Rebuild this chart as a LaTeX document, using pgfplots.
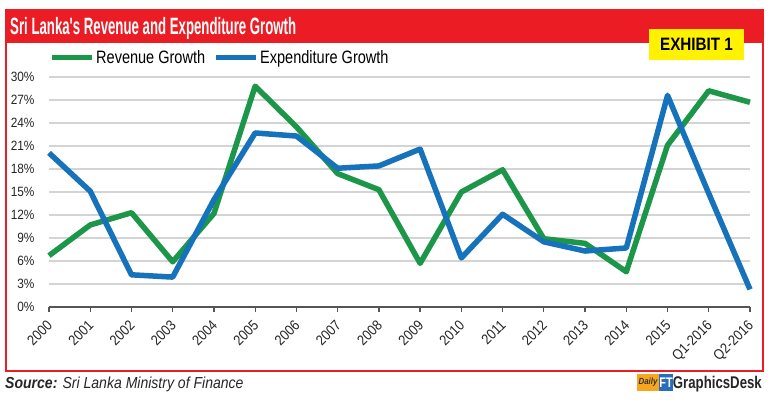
\documentclass[border=0pt]{standalone}
\usepackage{pgfplots}
\pgfplotsset{compat=1.18}
\usepackage{fontspec}
\setmainfont{Liberation Sans}[FakeStretch=0.88]
\newfontfamily\titlefont{Liberation Sans}[FakeStretch=0.56]
\newfontfamily\legfont{Liberation Sans}[FakeStretch=0.81]
\newfontfamily\exfont{Liberation Sans}[FakeStretch=0.85]
\newfontfamily\gdfont{Liberation Sans}[FakeStretch=0.78]
\definecolor{revgreen}{RGB}{28,150,72}
\definecolor{expblue}{RGB}{22,114,186}
\definecolor{bannerred}{RGB}{236,28,36}
\definecolor{exyellow}{RGB}{255,242,0}
\definecolor{axisgray}{RGB}{85,85,85}
\definecolor{gridgray}{RGB}{212,212,212}
\definecolor{logoorange}{RGB}{247,166,30}
\definecolor{logoblue}{RGB}{40,110,185}

\pgfplotstableread{
x rev exp
0 6.7 20.1
1 10.7 15.1
2 12.3 4.2
3 5.9 3.9
4 12.2 14.0
5 28.8 22.7
6 23.5 22.3
7 17.4 18.1
8 15.3 18.4
9 5.7 20.6
10 15.0 6.4
11 17.9 12.1
12 8.9 8.5
13 8.3 7.3
14 4.6 7.7
15 21.1 27.6
16 28.2 14.8
17 26.7 2.3
}\datatable

\begin{document}
\begin{tikzpicture}
\useasboundingbox (-49bp,-96bp) rectangle (721bp,307bp);
\fill[white] (-49bp,-96bp) rectangle (721bp,307bp);
% frame and banner
\fill[bannerred] (-43bp,297bp) rectangle (714bp,264bp);
\draw[bannerred, line width=1.6bp] (-43bp,297bp) rectangle (714bp,-64bp);
\node[anchor=base west, inner sep=0pt, text=white, font=\titlefont\bfseries\fontsize{23.7}{24}\selectfont] at (-39bp,272bp) {Sri Lanka's Revenue and Expenditure Growth};
\fill[exyellow] (600bp,278bp) rectangle (695bp,247bp);
\node[inner sep=0pt, text=black, font=\exfont\bfseries\fontsize{18}{18}\selectfont] at (647.5bp,262.5bp) {EXHIBIT 1};

\begin{axis}[
  scale only axis,
  width=701bp, height=230bp,
  at={(0,0)}, anchor=south west,
  xmin=0, xmax=17, ymin=0, ymax=30,
  axis x line*=bottom, axis y line*=left,
  y axis line style={draw=none},
  x axis line style={draw=axisgray, line width=1.5bp, -},
  xtick={0,...,17},
  xticklabels={2000,2001,2002,2003,2004,2005,2006,2007,2008,2009,2010,2011,2012,2013,2014,2015,Q1-2016,Q2-2016},
  xtick style={draw=axisgray, line width=1.3bp},
  tick align=outside,
  major tick length=5bp,
  ytick={0,3,...,30},
  yticklabel={\pgfmathprintnumber{\tick}\%},
  ytick style={draw=none},
  ymajorgrids,
  major grid style={draw=gridgray, line width=1.3bp},
  tick label style={font=\fontsize{13.5}{14}\selectfont, text=black!85},
  /pgf/number format/assume math mode=true,
  xticklabel style={font=\fontsize{14.5}{15}\selectfont, xshift=-3bp, yshift=-6bp, rotate=45, anchor=north east, inner sep=0.5bp},
  yticklabel style={xshift=-6bp},
  legend columns=2,
  legend style={draw=none, fill=none, at={(0.0,1.083)}, anchor=west, inner sep=0pt,
    font=\legfont\fontsize{18}{18}\selectfont,
    /tikz/every even column/.append style={column sep=6bp}},
  legend image code/.code={\draw[line width=5bp, #1] (0bp,0bp) -- (40bp,0bp);},
  clip=false,
]
\addplot[revgreen, line width=5.5bp, line join=round] table[x=x, y=rev] {\datatable};
\addlegendentry{Revenue Growth}
\addplot[expblue, line width=5.5bp, line join=round] table[x=x, y=exp] {\datatable};
\addlegendentry{Expenditure Growth}
\end{axis}

% source and logo
\node[anchor=base west, inner sep=0pt, font=\fontsize{16}{16}\selectfont, text=black!85] at (-44bp,-81bp) {\textbf{\textit{Source:}} \textit{Sri Lanka Ministry of Finance}};
\fill[logoorange] (588bp,-67bp) rectangle (610bp,-84bp);
\node[inner sep=0pt, font=\fontsize{9}{9}\selectfont\itshape\bfseries, text=black!80] at (599bp,-75.5bp) {Daily};
\fill[logoblue] (610bp,-67bp) rectangle (624bp,-84bp);
\node[inner sep=0pt, font=\gdfont\bfseries\fontsize{14}{14}\selectfont, text=white] at (617bp,-75.5bp) {FT};
\node[anchor=base east, inner sep=0pt, font=\gdfont\bfseries\fontsize{17}{17}\selectfont, text=black!85] at (713bp,-81bp) {GraphicsDesk};
\end{tikzpicture}
\end{document}
